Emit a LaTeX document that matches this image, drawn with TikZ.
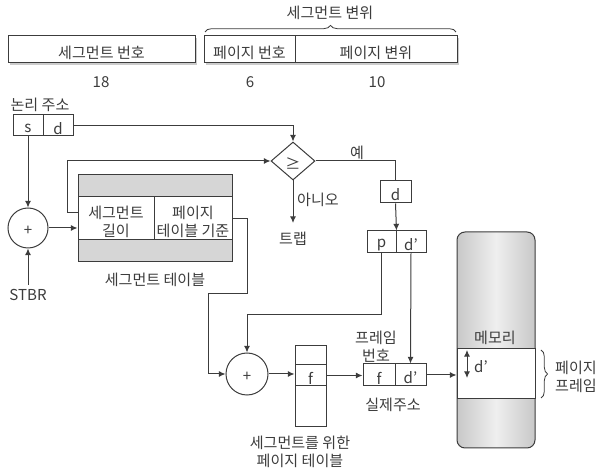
\documentclass[tikz,border=0pt]{standalone}
\usepackage{fontspec}
\setmainfont{Noto Sans CJK KR}
\usetikzlibrary{shapes.geometric,arrows.meta,decorations.pathreplacing,shadows}
\definecolor{linec}{HTML}{3C3C3C}
\definecolor{bandgrey}{HTML}{D6D6D6}
\definecolor{memedge}{HTML}{C8C8C8}
\definecolor{memmid}{HTML}{EFEFEF}
\newcommand{\mybox}[7][]{\node[box,#1, minimum width={(#4-#2)*0.75pt}, minimum height={(#5-#3)*0.75pt}] (#6) at ({(#2+#4)/2},{(#3+#5)/2}) {};
  \node[lbl] (#6-t) at (#6.center) {#7};}
\newcommand{\dpr}{d{\char"27}}
\begin{document}
\begin{tikzpicture}[x=0.75pt,y=-0.75pt,
  font=\fontsize{11.3}{13.5}\selectfont, color=linec,
  line width=0.75pt,
  box/.style={draw=linec, fill=white, inner sep=0pt},
  topbox/.style={drop shadow={shadow xshift=1.4pt, shadow yshift=-1.2pt, opacity=0.4, fill=gray}},
  band/.style={fill=bandgrey},
  arr/.style={-{Latex[length=5pt,width=4.5pt]}},
  lbl/.style={inner sep=0pt, align=center, yshift=-2.2pt},
  brc/.style={decorate, decoration={brace, amplitude=5pt}, line width=0.6pt}]
\useasboundingbox (0,0) rectangle (601,470);

% top format
\mybox[topbox]{8}{36}{195}{63}{segnum}{세그먼트 번호}
\mybox[topbox]{204}{36}{295}{63}{pgnum}{페이지 번호}
\mybox[topbox]{295}{36}{457}{63}{pgoff}{페이지 변위}
\node[lbl] (n18) at (101,79) {18};
\node[lbl] (n6) at (250,79) {6};
\node[lbl] (n10) at (377,79) {10};
\coordinate (brA) at (205,32);
\coordinate (brB) at (456,32);
\draw[brc] (brA) -- (brB);
\node[lbl] (segoff) at (330,10) {세그먼트 변위};

% logical address
\node[lbl] (logl) at (40,102) {논리 주소};
\mybox{13}{115}{43}{136}{s}{s}
\mybox{43}{115}{73}{136}{d}{d}

% comparator
\node[draw=linec, diamond, inner sep=0pt, minimum width=44*0.75pt, minimum height=38*0.75pt] (cmp) at (293,161) {};
\node[lbl] (cmp-t) at (cmp.center) {≥};
\draw[arr] (d.east) -| (cmp.north);
\node[lbl] (trap) at (293,236) {트랩};
\draw[arr] (cmp.south) -- (293,223);
\node[lbl] (no) at (318,197) {아니오};
\node[lbl] (yes) at (357,150) {예};

% adder 1
\node[draw=linec, circle, inner sep=0pt, minimum size=40*0.75pt] (add1) at (28,228) {};
\node[lbl] (add1-t) at (add1.center) {+};
\draw[arr] (s.south) -- (add1.north);
\node[lbl] (stbr) at (28,292) {STBR};
\coordinate (stbrtop) at (28,285);
\draw[arr] (stbrtop) -- (add1.south);

% segment table
\mybox[band]{78}{175}{232}{197}{stt}{}
\mybox{78}{197}{154}{240}{slen}{세그먼트\\길이}
\mybox{154}{197}{232}{240}{ptb}{페이지\\테이블 기준}
\mybox[band]{78}{240}{232}{262}{stb}{}
\node[lbl] (stl) at (155,277) {세그먼트 테이블};
\draw[arr] (add1.east) -- (add1.east -| slen.west);
\coordinate (lenY) at (0,213);
\coordinate (lenL) at (slen.west |- lenY);
\coordinate (lenC) at (67,213);
\draw[arr] (lenL) -- (lenC) |- (cmp.west);

% d box, p d'
\mybox{380}{181}{411}{203}{dbox}{d}
\draw (cmp.east) -| (dbox.north);
\mybox{367}{231}{396}{253}{p}{p}
\mybox{396}{231}{426}{253}{dp}{\dpr}
\draw[arr] (dbox.south) -- (p.north east);

% adder 2
\node[draw=linec, circle, inner sep=0pt, minimum size=42*0.75pt] (add2) at (247,374) {};
\node[lbl] (add2-t) at (add2.center) {+};
\coordinate (b1) at (247,294);
\coordinate (b2) at (208,294);
\draw[arr] (ptb.east) -| (b1) -- (b2) |- (add2.west);
\coordinate (c1) at (381.5,315);
\draw[arr] (p.south) -- (c1) -| (add2.north);

% page table
\mybox{295}{346}{326}{365}{pt1}{}
\mybox{295}{365}{326}{386}{ptf}{f}
\mybox{295}{386}{326}{427}{pt3}{}
\draw[arr] (add2.east) -- (add2.east -| ptf.west);
\node[lbl] (ptl) at (300,449) {세그먼트를 위한\\페이지 테이블};

% real address
\mybox{363}{364}{395}{386}{rf}{f}
\mybox{395}{364}{426}{386}{rd}{\dpr}
\draw[arr] (ptf.east) -- (ptf.east -| rf.west);
\draw[arr] (dp.south) -- (rd.north);
\node[lbl] (fnum) at (376,344) {프레임\\번호};
\node[lbl] (real) at (393,402) {실제주소};

% memory
\mybox[rounded corners=6pt, left color=memedge, right color=memedge, middle color=memmid]{457}{232}{535}{448}{mem}{}
\mybox{457}{349}{535}{399}{frame}{}
\node[lbl] (meml) at (495,335) {메모리};
\draw[arr] (rd.east) -- (rd.east -| frame.west);
\coordinate (dpa) at (467,350);
\coordinate (dpb) at (467,378);
\draw[{Latex[length=5pt,width=4.5pt]}-{Latex[length=5pt,width=4.5pt]}] (dpa) -- (dpb);
\node[lbl] (dpl) at (481,364) {\dpr};
\coordinate (brC) at (541,350);
\coordinate (brD) at (541,398);
\draw[brc] (brC) -- (brD);
\node[lbl] (pfl) at (576,374) {페이지\\프레임};
\end{tikzpicture}
\end{document}
